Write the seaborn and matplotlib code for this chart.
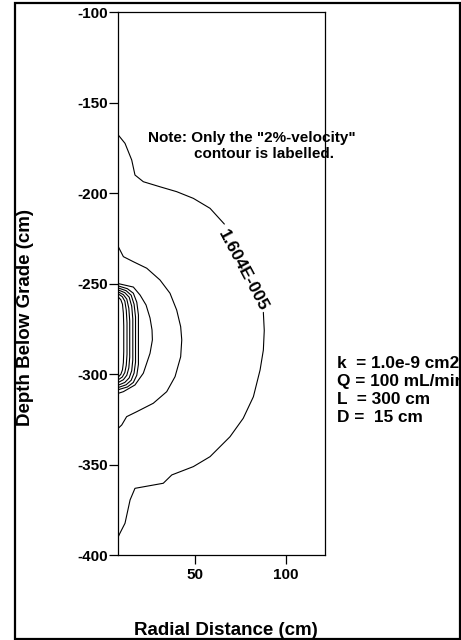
import matplotlib
matplotlib.use("Agg")
import matplotlib.pyplot as plt
import seaborn as sns
from matplotlib.patches import Rectangle

# contour lines (radial distance cm, depth cm)
# outer "2%-velocity" contour, split where the label sits
c1_upper_r = [7.5, 11.2, 14.9, 16.7, 21.3, 30.5, 39.7, 48.9, 58.1, 66.0]
c1_upper_z = [-167.8, -172.4, -181.6, -189.9, -193.6, -196.4, -199.1, -202.8, -208.3, -217.0]
c1_lower_r = [87.5, 88.0, 87.5, 85.7, 82.0, 76.4, 69.1, 58.1, 48.9, 37.0, 32.3, 16.7, 14.0, 11.2, 8.4, 7.5]
c1_lower_z = [-265.8, -275.8, -286.6, -297.6, -312.4, -324.3, -334.5, -345.5, -351.0, -355.6,
              -360.2, -363.0, -369.4, -382.3, -387.8, -389.7]

c2_r = [7.5, 10.3, 15.8, 23.2, 30.5, 36.0, 39.7, 41.9, 42.5, 41.9, 38.8, 34.2, 26.8, 17.6, 12.1, 9.4, 7.5]
c2_z = [-229.5, -235.0, -237.8, -241.4, -247.9, -255.2, -264.5, -273.7, -281.0, -290.3,
        -301.3, -309.6, -316.0, -320.7, -323.4, -328.0, -329.8]

c3_r = [7.5, 15.8, 19.5, 22.8, 25.0, 26.1, 26.3, 25.0, 21.3, 16.7, 10.3, 7.5]
c3_z = [-249.9, -251.8, -256.2, -261.7, -268.9, -275.5, -281.0, -288.4, -299.4, -305.9, -309.6, -310.5]

# tight contours hugging the screen
i1_r = [7.5, 8.9, 9.8, 10.3, 10.5, 10.5, 10.3, 9.8, 8.9, 7.5]
i1_z = [-257.3, -258.8, -261.3, -266.3, -273.3, -287.5, -293.5, -297.5, -300.0, -301.5]
i2_r = [7.5, 9.7, 11.1, 11.9, 12.3, 12.3, 11.9, 11.1, 9.7, 7.5]
i2_z = [-255.6, -257.1, -259.6, -264.6, -271.6, -289.0, -295.0, -299.0, -301.5, -303.0]
i3_r = [7.5, 10.3, 12.2, 13.3, 13.8, 13.8, 13.3, 12.2, 10.3, 7.5]
i3_z = [-254.5, -256.0, -258.5, -263.5, -270.5, -290.5, -296.5, -300.5, -303.0, -304.5]
i4_r = [7.5, 11.1, 13.5, 14.9, 15.5, 15.5, 14.9, 13.5, 11.1, 7.5]
i4_z = [-253.4, -254.9, -257.4, -262.4, -269.4, -292.0, -298.0, -302.0, -304.5, -306.0]
i5_r = [7.5, 11.8, 14.6, 16.2, 17.0, 17.0, 16.2, 14.6, 11.8, 7.5]
i5_z = [-252.3, -253.8, -256.3, -261.3, -268.3, -293.3, -299.3, -303.3, -305.8, -307.3]
i6_r = [7.5, 12.5, 15.8, 17.7, 18.6, 18.6, 17.7, 15.8, 12.5, 7.5]
i6_z = [-251.2, -252.7, -255.2, -260.2, -267.2, -294.5, -300.5, -304.5, -307.0, -308.5]

contour_label = "1.604E-005"
label_pos = (76.4, -242.4)

x_ticks = [50, 100]
y_ticks = [-400, -350, -300, -250, -200, -150, -100]

params = ["k  = 1.0e-9 cm2", "Q = 100 mL/min", "L  = 300 cm", "D =  15 cm"]

sns.set_style("ticks")
plt.rcParams['font.family'] = ['Liberation Sans', 'DejaVu Sans']
plt.rcParams['font.weight'] = 'bold'
plt.rcParams['text.color'] = 'black'
plt.rcParams['xtick.color'] = 'black'
plt.rcParams['ytick.color'] = 'black'
plt.rcParams['axes.unicode_minus'] = False

W, H = 461, 640
fig = plt.figure(figsize=(W / 100, H / 100), dpi=100)
ax = fig.add_axes([118.3 / W, 1 - 555.3 / H, (325 - 118.3) / W, (555.3 - 12.3) / H])

lines = [(c1_upper_r, c1_upper_z), (c1_lower_r, c1_lower_z), (c2_r, c2_z), (c3_r, c3_z),
         (i1_r, i1_z), (i2_r, i2_z), (i3_r, i3_z), (i4_r, i4_z), (i5_r, i5_z), (i6_r, i6_z)]
for r, z in lines:
    sns.lineplot(x=r, y=z, sort=False, estimator=None, color='black', linewidth=0.8, ax=ax)

ax.text(label_pos[0], label_pos[1], contour_label, rotation=-62, ha='center', va='center',
        fontsize=12.5, fontweight='bold', color='black')

ax.set_xlim(7.5, 121.5)
ax.set_ylim(-400, -100)
ax.set_xticks(x_ticks)
ax.set_yticks(y_ticks)
ax.tick_params(axis='y', direction='out', length=6.5, width=0.9, pad=0.8, labelsize=11,
               labelcolor='black')
ax.tick_params(axis='x', direction='out', length=6.5, width=0.9, pad=3, labelsize=11,
               labelcolor='black')
for lab in ax.get_xticklabels() + ax.get_yticklabels():
    lab.set_fontweight('bold')
for s in ax.spines.values():
    s.set_visible(True)
    s.set_linewidth(0.9)
    s.set_color('black')

# annotations in figure pixels
def fx(px):
    return px / W

def fy(py):
    return 1 - py / H

fig.text(fx(148), fy(141.7), 'Note: Only the "2%-velocity"', fontsize=11, fontweight='bold',
         ha='left', va='baseline')
fig.text(fx(194), fy(158.3), 'contour is labelled.', fontsize=11, fontweight='bold',
         ha='left', va='baseline')

for txt, py in zip(params, [368.3, 386.0, 404.0, 421.7]):
    fig.text(fx(336.7), fy(py), txt, fontsize=12.4, fontweight='bold', ha='left', va='baseline')

fig.text(fx(225.5), fy(635), 'Radial Distance (cm)', fontsize=13.5, fontweight='bold',
         ha='center', va='baseline')
fig.text(fx(26), fy(317), 'Depth Below Grade (cm)', fontsize=13.5, fontweight='bold',
         rotation=90, ha='center', va='center')

# outer frame
fig.patches.append(Rectangle((fx(15), fy(639)), fx(460) - fx(15), fy(2.5) - fy(639),
                             transform=fig.transFigure, fill=False, edgecolor='black',
                             linewidth=1.6, clip_on=False))

fig.savefig('out.png', dpi=100)
